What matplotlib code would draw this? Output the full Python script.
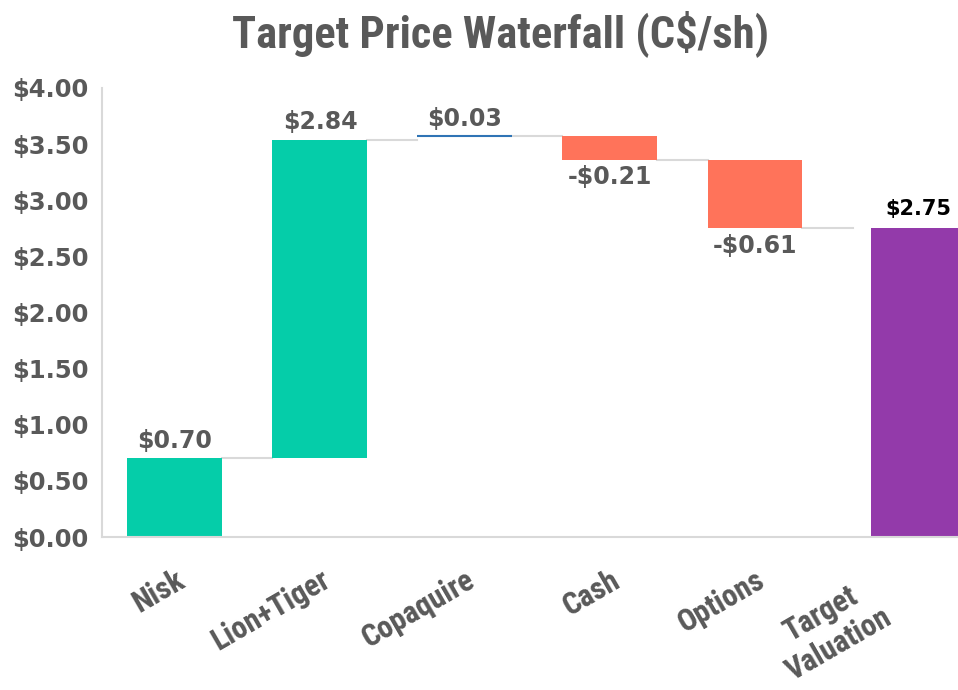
import numpy as np
import matplotlib.pyplot as plt
import matplotlib.transforms as mtrans

categories = ["Nisk", "Lion+Tiger", "Copaquire", "Cash", "Options", "Target\nValuation"]
changes = [0.70, 2.84, 0.03, -0.21, -0.61]
target = 2.75
labels = ["$0.70", "$2.84", "$0.03", "-$0.21", "-$0.61", "$2.75"]

green = "#05CDA9"
red = "#FF735A"
purple = "#933AAA"
blue = "#2F74B5"
gray_txt = "#595959"
line_gray = "#D9D9D9"

narrow = ["Roboto Condensed", "Liberation Sans Narrow", "Liberation Sans", "DejaVu Sans"]
plt.rcParams["font.family"] = ["DejaVu Sans"]

fig = plt.figure(figsize=(9.58, 6.9), dpi=100)
ax = fig.add_axes([0.1065, 0.2217, 0.8935, 0.6508])

w = 0.655
x = np.arange(len(categories))
ends = np.cumsum(changes)
starts = ends - np.array(changes)

for i, (s, c) in enumerate(zip(starts, changes)):
    if abs(c) < 0.05:
        # tiny step shows as a thin line
        ax.plot([x[i] - w / 2, x[i] + w / 2], [s + c, s + c], color=blue, lw=1.5, solid_capstyle="butt")
    else:
        col = green if c > 0 else red
        ax.bar(x[i], c, w, bottom=s, color=col, edgecolor="none")
    if c >= 0:
        ax.text(x[i], s + c + 0.05, labels[i], ha="center", va="bottom",
                fontsize=17, fontweight="bold", color=gray_txt)
    else:
        ax.text(x[i], s + c - 0.05, labels[i], ha="center", va="top",
                fontsize=17, fontweight="bold", color=gray_txt)

# connectors
for i in range(len(changes)):
    ax.plot([x[i] + w / 2, x[i + 1] - w / 2], [ends[i], ends[i]], color=line_gray, lw=1.5, zorder=0)

# total bar, sits a bit right of its slot
xt = x[-1] + 0.13
ax.bar(xt, target, w, color=purple, edgecolor="none")
ax.text(xt, target + 0.08, labels[-1], ha="center", va="bottom",
        fontsize=15, fontweight="bold", color="black")

ax.set_xlim(-0.503, 5.4)
ax.set_ylim(0, 4)
ax.set_yticks(np.arange(0, 4.01, 0.5))
ax.set_yticklabels(["${:.2f}".format(v) for v in np.arange(0, 4.01, 0.5)],
                   fontsize=17.5, fontweight="bold", color=gray_txt)
ax.set_xticks(x)
ax.set_xticklabels(categories, rotation=30, ha="right", rotation_mode="anchor",
                   multialignment="center", fontsize=22, fontweight="bold",
                   color=gray_txt, family=narrow)
ax.tick_params(length=0, pad=10)
ax.tick_params(axis="x", pad=20)
for sp in ["top", "right"]:
    ax.spines[sp].set_visible(False)
for sp in ["left", "bottom"]:
    ax.spines[sp].set_color(line_gray)
    ax.spines[sp].set_linewidth(1.5)

# last label sits lower-left in the original
last = ax.get_xticklabels()[-1]
last.set_transform(last.get_transform() + mtrans.ScaledTranslation(-0.36, -0.07, fig.dpi_scale_trans))

fig.text(500 / 958, 1 - 34 / 690, "Target Price Waterfall (C$/sh)", ha="center", va="center",
         fontsize=32, fontweight="bold", color=gray_txt, family=narrow)

fig.savefig("out.png", dpi=100)
